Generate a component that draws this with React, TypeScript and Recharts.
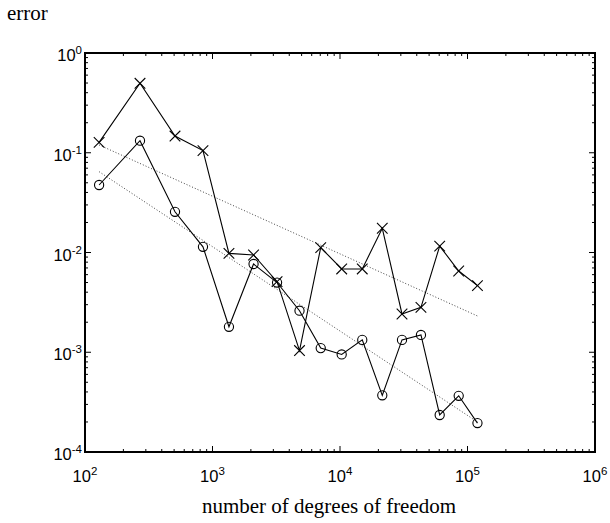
import React from 'react';
import { LineChart, Line, XAxis, YAxis, ReferenceArea } from 'recharts';

// degrees of freedom (shared by both error series)
const dofs = [129, 270, 508, 842, 1346, 2099, 3209, 4813, 7060, 10310, 14950, 21460, 30640, 43150, 60510, 85310, 119700];
// error values, "x" markers
const errorCross = [0.127, 0.497, 0.147, 0.105, 0.0098, 0.00944, 0.0051, 0.00104, 0.0112, 0.00684, 0.00684, 0.0175, 0.00242, 0.00282, 0.0116, 0.00652, 0.00465];
// error values, "o" markers
const errorCircle = [0.0475, 0.132, 0.0256, 0.0114, 0.0018, 0.00767, 0.005, 0.00261, 0.0011, 0.00095, 0.00133, 0.00037, 0.00133, 0.00149, 0.000235, 0.000366, 0.000195];
// reference (dotted) lines
const fitDofs = [129, 119700];
const fitUpper = [0.1197, 0.00231];
const fitLower = [0.0646, 0.0002];

// axis ranges and tick definitions
const xDomain = [100, 1000000];
const yDomain = [0.0001, 1];
const xExponents = [2, 3, 4, 5, 6];
const yExponents = [-4, -3, -2, -1, 0];
const minorMultipliers = [2, 3, 4, 5, 6, 7, 8, 9];

const buildTicks = (exps: number[]) => {
  const out: number[] = [];
  exps.forEach((e, i) => {
    out.push(Math.pow(10, e));
    if (i < exps.length - 1) {
      minorMultipliers.forEach((m) => out.push(Number((m * Math.pow(10, e)).toPrecision(12))));
    }
  });
  return out;
};
const xTicks = buildTicks(xExponents);
const yTicks = buildTicks(yExponents);

const crossData = dofs.map((x, i) => ({ x, y: errorCross[i] }));
const circleData = dofs.map((x, i) => ({ x, y: errorCircle[i] }));
const upperData = fitDofs.map((x, i) => ({ x, y: fitUpper[i] }));
const lowerData = fitDofs.map((x, i) => ({ x, y: fitLower[i] }));

const exponentOf = (v: number) => {
  const l = Math.log10(v);
  return Math.abs(l - Math.round(l)) < 1e-9 ? Math.round(l) : null;
};

const LABEL_FONT = '"Liberation Sans", Arial, Helvetica, sans-serif';
const SERIF = '"Liberation Serif", "Times New Roman", serif';
const MAJOR = 6;
const MINOR = 3;

const TickBottom = (p: any) => {
  const { x, y, payload } = p;
  const e = exponentOf(payload.value);
  const len = e !== null ? MAJOR : MINOR;
  return (
    <g>
      <line x1={x} x2={x} y1={y} y2={y - len} stroke="#000" strokeWidth={1} />
      {e !== null && (
        <text x={x} y={y + 30} textAnchor="middle" fontFamily={LABEL_FONT} fontSize={16.5} fill="#000">
          10<tspan dy={-7} fontSize={11.5}>{String(e)}</tspan>
        </text>
      )}
    </g>
  );
};
const TickTop = (p: any) => {
  const { x, y, payload } = p;
  const e = exponentOf(payload.value);
  const len = e !== null ? MAJOR : MINOR;
  return <line x1={x} x2={x} y1={y} y2={y + len} stroke="#000" strokeWidth={1} />;
};
const TickLeft = (p: any) => {
  const { x, y, payload } = p;
  const e = exponentOf(payload.value);
  const len = e !== null ? MAJOR : MINOR;
  return (
    <g>
      <line x1={x} x2={x + len} y1={y} y2={y} stroke="#000" strokeWidth={1} />
      {e !== null && (
        <text x={x - 3} y={y + 8} textAnchor="end" fontFamily={LABEL_FONT} fontSize={16.5} fill="#000">
          10<tspan dy={-7} fontSize={11.5}>{String(e)}</tspan>
        </text>
      )}
    </g>
  );
};
const TickRight = (p: any) => {
  const { x, y, payload } = p;
  const e = exponentOf(payload.value);
  const len = e !== null ? MAJOR : MINOR;
  return <line x1={x} x2={x - len} y1={y} y2={y} stroke="#000" strokeWidth={1} />;
};

const CrossDot = (p: any) => {
  const { cx, cy, index } = p;
  if (cx == null || cy == null) return <g key={`c${index}`} />;
  const s = 5.3;
  return (
    <g key={`c${index}`}>
      <line x1={cx - s} y1={cy - s} x2={cx + s} y2={cy + s} stroke="#000" strokeWidth={1.1} />
      <line x1={cx - s} y1={cy + s} x2={cx + s} y2={cy - s} stroke="#000" strokeWidth={1.1} />
    </g>
  );
};
const CircleDot = (p: any) => {
  const { cx, cy, index } = p;
  if (cx == null || cy == null) return <g key={`o${index}`} />;
  return <circle key={`o${index}`} cx={cx} cy={cy} r={4.6} fill="none" stroke="#000" strokeWidth={1.1} />;
};

export default function App() {
  return (
    <div style={{ position: 'absolute', left: 0, top: 0, width: 610, height: 523, background: '#fff' }}>
      <LineChart width={610} height={523} margin={{ top: 52, right: 14, bottom: 0, left: 0 }}>
        <XAxis
          xAxisId="b"
          dataKey="x"
          type="number"
          scale="log"
          domain={xDomain}
          allowDataOverflow
          ticks={xTicks}
          interval={0}
          height={71}
          tickSize={0}
          tickMargin={0}
          tickLine={false}
          axisLine={false}
          tick={<TickBottom />}
          label={{
            content: (props: any) => {
              const vb = props.viewBox;
              return (
                <text x={vb.x + vb.width / 2 - 11} y={vb.y + 61} textAnchor="middle" fontFamily={SERIF} fontSize={21} fill="#000">
                  number of degrees of freedom
                </text>
              );
            },
          }}
        />
        <XAxis
          xAxisId="t"
          orientation="top"
          dataKey="x"
          type="number"
          scale="log"
          domain={xDomain}
          allowDataOverflow
          ticks={xTicks}
          interval={0}
          height={1}
          tickSize={0}
          tickMargin={0}
          tickLine={false}
          axisLine={false}
          tick={<TickTop />}
        />
        <YAxis
          yAxisId="l"
          dataKey="y"
          type="number"
          scale="log"
          domain={yDomain}
          allowDataOverflow
          ticks={yTicks}
          interval={0}
          width={85}
          tickSize={0}
          tickMargin={0}
          tickLine={false}
          axisLine={false}
          tick={<TickLeft />}
          label={{
            content: (props: any) => {
              const vb = props.viewBox;
              return (
                <text x={vb.x + 7} y={vb.y - 33} textAnchor="start" fontFamily={SERIF} fontSize={21} fill="#000">
                  error
                </text>
              );
            },
          }}
        />
        <YAxis
          yAxisId="r"
          orientation="right"
          dataKey="y"
          type="number"
          scale="log"
          domain={yDomain}
          allowDataOverflow
          ticks={yTicks}
          interval={0}
          width={1}
          tickSize={0}
          tickMargin={0}
          tickLine={false}
          axisLine={false}
          tick={<TickRight />}
        />
        {/* plot frame (box) */}
        <ReferenceArea
          xAxisId="b"
          yAxisId="l"
          x1={xDomain[0]}
          x2={xDomain[1]}
          y1={yDomain[0]}
          y2={yDomain[1]}
          fill="none"
          fillOpacity={0}
          stroke="#000"
          strokeWidth={2}
          strokeOpacity={1}
          ifOverflow="visible"
        />
        {/* invisible series binding the mirrored frame axes */}
        <Line xAxisId="t" yAxisId="r" data={upperData} dataKey="y" type="linear" stroke="none" strokeOpacity={0} dot={false} activeDot={false} legendType="none" isAnimationActive={false} />
        <Line xAxisId="b" yAxisId="l" data={upperData} dataKey="y" type="linear" stroke="#444" strokeWidth={1} strokeDasharray="1 2" dot={false} activeDot={false} isAnimationActive={false} />
        <Line xAxisId="b" yAxisId="l" data={lowerData} dataKey="y" type="linear" stroke="#444" strokeWidth={1} strokeDasharray="1 2" dot={false} activeDot={false} isAnimationActive={false} />
        <Line xAxisId="b" yAxisId="l" data={crossData} dataKey="y" type="linear" stroke="#000" strokeWidth={1.1} dot={CrossDot} activeDot={false} isAnimationActive={false} />
        <Line xAxisId="b" yAxisId="l" data={circleData} dataKey="y" type="linear" stroke="#000" strokeWidth={1.1} dot={CircleDot} activeDot={false} isAnimationActive={false} />
      </LineChart>
    </div>
  );
}
